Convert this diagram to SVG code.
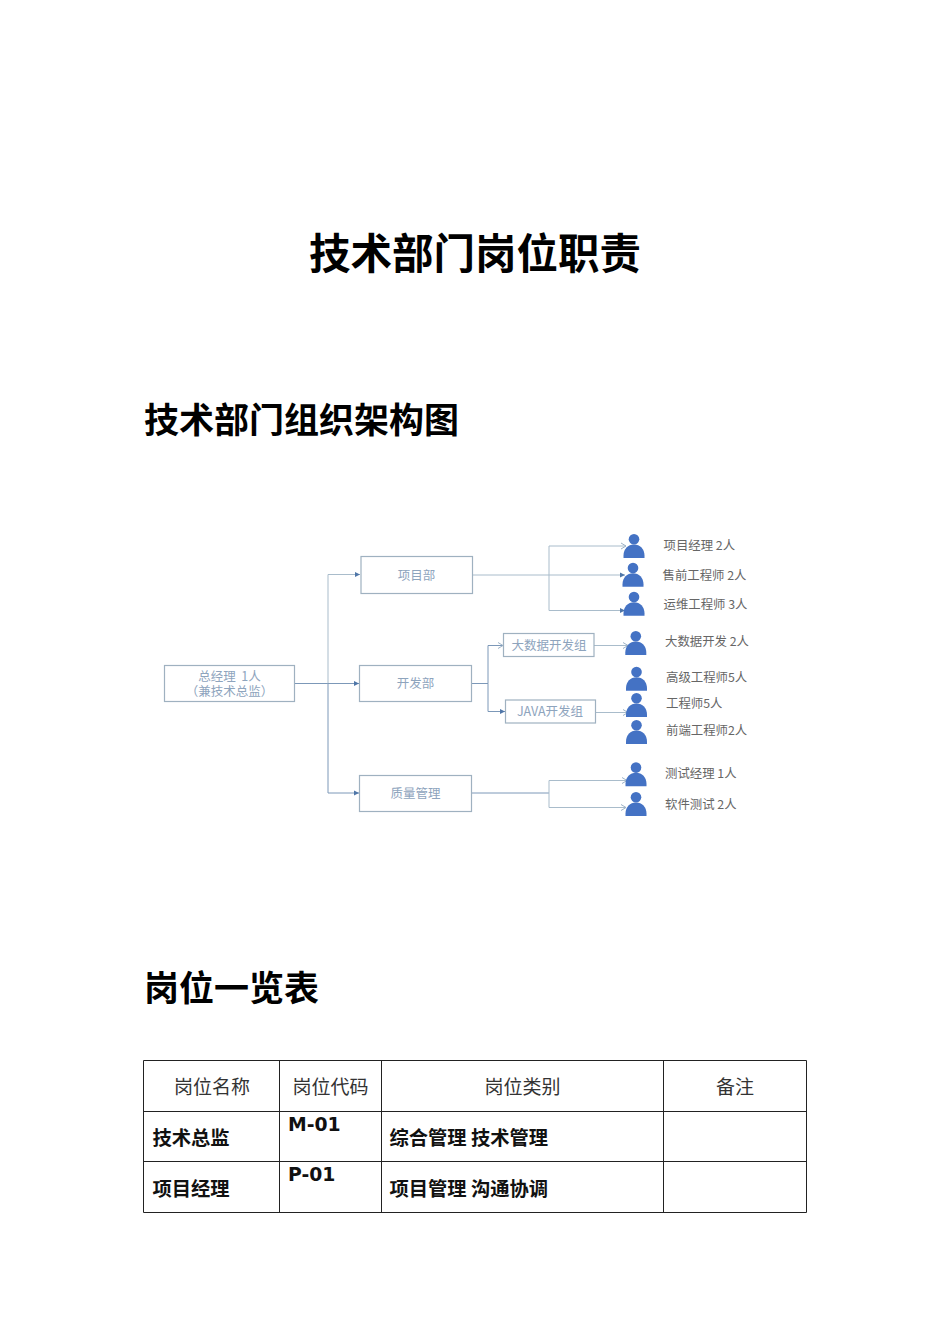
<svg xmlns="http://www.w3.org/2000/svg" width="950" height="1344" viewBox="0 0 950 1344">
<style>
text{font-family:"Noto Sans CJK SC","DejaVu Sans",sans-serif}
.h{font-weight:700;font-size:35px;fill:#000}
.box{fill:#fff;stroke:#9fb1c0;stroke-width:1.2}
.bt{font-size:12.500px;fill:#8ea4bd;text-anchor:middle}
.pl{font-size:12.400px;fill:#666}
.c{fill:none;stroke:#a9bccb;stroke-width:1}
.d{fill:none;stroke:#7c98b8;stroke-width:1}
.th{font-size:19px;fill:#333;text-anchor:middle}
.tb{font-size:19.300px;font-weight:700;fill:#111}
.tc{font-family:"DejaVu Sans",sans-serif;font-size:18.800px;font-weight:700;fill:#111}
.g{stroke:#222;stroke-width:1;fill:none}
.p{fill:#4472c4}
</style>
<defs>
<marker id="a" markerWidth="6" markerHeight="6" refX="5" refY="3" orient="auto" markerUnits="userSpaceOnUse"><path d="M0,.5L5,3L0,5.500z" fill="#4f76a8"/></marker>
<marker id="o" markerWidth="8" markerHeight="8" refX="6" refY="4" orient="auto" markerUnits="userSpaceOnUse"><path d="M1,1L6,4L1,7" fill="none" stroke="#9db2c6"/></marker>
<g id="person"><circle cx="0" cy="-18.700" r="5.300" class="p"/><path class="p" d="M-10.500,0V-2.500C-10.500,-9-6,-13.500,0,-13.500S10.500,-9,10.500,-2.500V0z"/></g>
</defs>

<text x="475" y="269" text-anchor="middle" style="font-weight:700;font-size:41.500px" fill="#000">技术部门岗位职责</text>
<text x="144" y="433" class="h">技术部门组织架构图</text>
<text x="144" y="1001" class="h">岗位一览表</text>

<g id="connectors">
<path class="d" d="M295 683.500H328"/>
<path class="c" d="M328 683.500V574.500H360" marker-end="url(#a)"/>
<path class="d" d="M328 683.500H359" marker-end="url(#a)"/>
<path class="d" d="M328 683.500V793H359" marker-end="url(#a)"/>
<path class="c" d="M473 575H625" marker-end="url(#a)"/>
<path class="c" d="M549 575V546H626" marker-end="url(#o)"/>
<path class="c" d="M549 575V610.500H625" marker-end="url(#a)"/>
<path class="d" d="M471 683.500H488"/>
<path class="d" d="M488 683.500V645.500H503" marker-end="url(#o)"/>
<path class="d" d="M488 683.500V711.500H505" marker-end="url(#a)"/>
<path class="c" d="M594 645.500H628" marker-end="url(#o)"/>
<path class="c" d="M596 712.500H628" marker-end="url(#o)"/>
<path class="d" d="M471 793H549"/>
<path class="c" d="M549 793V780.500H627" marker-end="url(#o)"/>
<path class="c" d="M549 793V807.500H626" marker-end="url(#o)"/>
</g>

<g id="n-gm"><rect class="box" x="164.500" y="665.500" width="130" height="36"/><text class="bt" xml:space="preserve"><tspan x="229.500" y="681">总经理  1人</tspan><tspan x="229.500" y="696">（兼技术总监）</tspan></text></g>
<g id="n-pm"><rect class="box" x="361" y="556.500" width="111.500" height="37"/><text class="bt" x="416.500" y="579.500">项目部</text></g>
<g id="n-dev"><rect class="box" x="359.500" y="665.500" width="112" height="36"/><text class="bt" x="415.500" y="688">开发部</text></g>
<g id="n-qa"><rect class="box" x="359.500" y="775.500" width="112" height="36"/><text class="bt" x="415.500" y="797.500">质量管理</text></g>
<g id="n-bd"><rect class="box" x="503.500" y="633.500" width="90.500" height="23"/><text class="bt" x="549" y="649.500">大数据开发组</text></g>
<g id="n-java"><rect class="box" x="505.500" y="700" width="90" height="23"/><text class="bt" x="550" y="716">JAVA开发组</text></g>

<g id="p1"><use href="#person" x="634" y="558"/><text class="pl" x="663.500" y="549.500">项目经理 2人</text></g>
<g id="p2"><use href="#person" x="633" y="586.700"/><text class="pl" x="662.500" y="579.500">售前工程师 2人</text></g>
<g id="p3"><use href="#person" x="634" y="615.700"/><text class="pl" x="663.500" y="608.500">运维工程师 3人</text></g>
<g id="p4"><use href="#person" x="635.800" y="655"/><text class="pl" x="665" y="646">大数据开发 2人</text></g>
<g id="p5"><use href="#person" x="636.500" y="690.700"/><text class="pl" x="666" y="681.500">高级工程师5人</text></g>
<g id="p6"><use href="#person" x="636.500" y="717"/><text class="pl" x="666" y="708">工程师5人</text></g>
<g id="p7"><use href="#person" x="636.500" y="744"/><text class="pl" x="666" y="734.500">前端工程师2人</text></g>
<g id="p8"><use href="#person" x="636" y="786.300"/><text class="pl" x="665" y="777.500">测试经理 1人</text></g>
<g id="p9"><use href="#person" x="636" y="816"/><text class="pl" x="665" y="809">软件测试 2人</text></g>

<g id="table">
<path class="g" d="M143.500 1060.500H806.500M143.500 1111.500H806.500M143.500 1161.500H806.500M143.500 1212.500H806.500M143.500 1060.500V1212.500M279.500 1060.500V1212.500M381.500 1060.500V1212.500M663.500 1060.500V1212.500M806.500 1060.500V1212.500"/>
<text class="th" x="212" y="1094">岗位名称</text>
<text class="th" x="330.500" y="1094">岗位代码</text>
<text class="th" x="522.500" y="1094">岗位类别</text>
<text class="th" x="735" y="1094">备注</text>
<text class="tb" x="152.500" y="1144.500">技术总监</text>
<text class="tc" x="288" y="1130.500">M-01</text>
<text class="tb" x="389.500" y="1144.500">综合管理 技术管理</text>
<text class="tb" x="152.500" y="1195.500">项目经理</text>
<text class="tc" x="288" y="1181">P-01</text>
<text class="tb" x="389.500" y="1195.500">项目管理 沟通协调</text>
</g>
</svg>
